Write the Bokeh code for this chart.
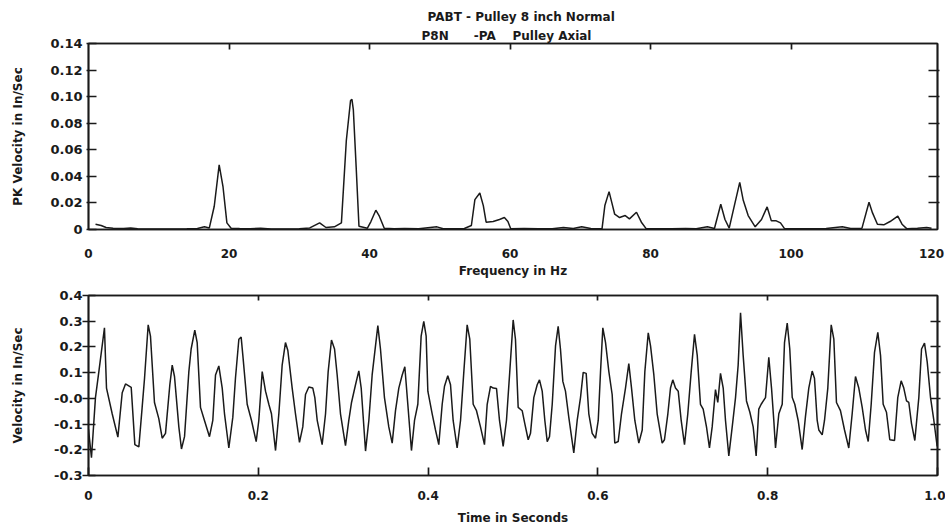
from bokeh.plotting import figure
from bokeh.models import LinearAxis, FixedTicker, Title, Range1d
from bokeh.layouts import column
from bokeh.embed import file_html
from bokeh.resources import INLINE

# ---------------- data ----------------
title_line1 = "PABT - Pulley 8 inch Normal"
title_line2 = "P8N\u00a0\u00a0\u00a0\u00a0\u00a0\u00a0-PA\u00a0\u00a0\u00a0\u00a0Pulley Axial"

freq_hz = [1.0, 1.8, 2.5, 3.5, 5.0, 6.0, 7.0, 8.5, 10.0, 12.0, 14.0, 15.5, 16.5, 17.2,
           17.9, 18.6, 19.15, 19.7, 20.3, 21.5, 23.0, 24.5, 26.0, 28.0, 30.0, 31.5,
           32.9, 33.8, 35.0, 36.0, 36.7, 37.3, 37.5, 37.7, 38.1, 38.5, 39.7, 40.2,
           40.9, 41.4, 42.1, 43.5, 45.0, 47.0, 49.6, 50.5, 52.0, 53.5, 54.5, 55.0,
           55.7, 56.2, 56.6, 57.6, 58.5, 59.2, 59.7, 60.1, 62.0, 64.0, 66.0, 67.6,
           69.0, 70.2, 71.5, 73.1, 73.5, 74.1, 74.5, 74.9, 75.6, 76.4, 77.0, 78.0,
           78.7, 79.4, 81.0, 83.0, 85.0, 86.5, 88.1, 89.1, 90.0, 90.6, 91.2, 92.0,
           92.7, 93.2, 93.9, 94.9, 95.8, 96.6, 97.2, 97.9, 98.5, 99.1, 101.0, 103.0,
           105.0, 107.3, 108.5, 110.1, 111.1, 111.6, 112.3, 113.2, 114.1, 115.2,
           115.8, 116.5, 118.0, 119.3, 120.0]
pk_velocity = [0.004, 0.003, 0.0015, 0.001, 0.0008, 0.0012, 0.0005, 0.0003, 0.0003, 0.0003,
               0.0005, 0.0008, 0.002, 0.0012, 0.0175, 0.0487, 0.032, 0.005, 0.001, 0.0008,
               0.0006, 0.001, 0.0004, 0.0003, 0.0005, 0.0012, 0.005, 0.0015, 0.002, 0.005,
               0.067, 0.097, 0.098, 0.090, 0.047, 0.0025, 0.001, 0.006, 0.0145, 0.010,
               0.001, 0.0006, 0.0008, 0.0005, 0.002, 0.0005, 0.0005, 0.0008, 0.003, 0.0225,
               0.0275, 0.018, 0.0055, 0.006, 0.0075, 0.009, 0.006, 0.0005, 0.0008, 0.0005,
               0.0006, 0.0015, 0.0008, 0.002, 0.0008, 0.0006, 0.018, 0.0285, 0.020, 0.0115,
               0.009, 0.0105, 0.008, 0.013, 0.0055, 0.0005, 0.0006, 0.0005, 0.0008, 0.0006,
               0.002, 0.0008, 0.019, 0.0075, 0.001, 0.0195, 0.0355, 0.022, 0.0105, 0.002,
               0.0075, 0.017, 0.0065, 0.0065, 0.005, 0.0005, 0.0006, 0.0005, 0.0008, 0.002,
               0.0008, 0.001, 0.0205, 0.0125, 0.004, 0.0035, 0.006, 0.010, 0.004, 0.0005,
               0.001, 0.0015, 0.001]

time_s = [0.0, 0.0035, 0.0082, 0.0122, 0.0188, 0.0212, 0.0279, 0.0346, 0.0397, 0.0436,
          0.0503, 0.0546, 0.0593, 0.0632, 0.0660, 0.0703, 0.0730, 0.0777, 0.0828, 0.0868,
          0.0907, 0.0958, 0.0986, 0.1013, 0.1064, 0.1095, 0.1131, 0.1182, 0.1209, 0.1252,
          0.1280, 0.1319, 0.1366, 0.1425, 0.1464, 0.1496, 0.1535, 0.1575, 0.1602, 0.1653,
          0.1700, 0.1731, 0.1771, 0.1798, 0.1818, 0.1869, 0.1920, 0.1975, 0.2006, 0.2046,
          0.2085, 0.2124, 0.2155, 0.2203, 0.2242, 0.2281, 0.2320, 0.2348, 0.2399, 0.2438,
          0.2485, 0.2524, 0.2556, 0.2595, 0.2642, 0.2666, 0.2694, 0.2752, 0.2792, 0.2823,
          0.2862, 0.2898, 0.2929, 0.2968, 0.3027, 0.3066, 0.3098, 0.3145, 0.3184, 0.3212,
          0.3263, 0.3302, 0.3341, 0.3408, 0.3439, 0.3486, 0.3537, 0.3577, 0.3616, 0.3655,
          0.3695, 0.3726, 0.3761, 0.3804, 0.3840, 0.3879, 0.3918, 0.3949, 0.3977, 0.3997,
          0.4048, 0.4087, 0.4126, 0.4166, 0.4193, 0.4232, 0.4264, 0.4295, 0.4342, 0.4382,
          0.4421, 0.4460, 0.4491, 0.4531, 0.4570, 0.4617, 0.4664, 0.4696, 0.4735, 0.4767,
          0.4806, 0.4841, 0.4884, 0.4923, 0.4962, 0.5002, 0.5029, 0.5061, 0.5108, 0.5139,
          0.5179, 0.5206, 0.5245, 0.5285, 0.5312, 0.5344, 0.5375, 0.5403, 0.5430, 0.5462,
          0.5501, 0.5532, 0.5559, 0.5587, 0.5618, 0.5657, 0.5716, 0.5756, 0.5795, 0.5827,
          0.5862, 0.5893, 0.5933, 0.5972, 0.6004, 0.6031, 0.6058, 0.6090, 0.6129, 0.6168,
          0.6199, 0.6239, 0.6278, 0.6325, 0.6364, 0.6396, 0.6435, 0.6482, 0.6522, 0.6553,
          0.6593, 0.6620, 0.6659, 0.6698, 0.6757, 0.6784, 0.6824, 0.6855, 0.6882, 0.6914,
          0.6946, 0.6981, 0.7020, 0.7059, 0.7099, 0.7138, 0.7170, 0.7208, 0.7240, 0.7279,
          0.7314, 0.7346, 0.7385, 0.7412, 0.7444, 0.7476, 0.7503, 0.7542, 0.7582, 0.7621,
          0.7652, 0.7680, 0.7711, 0.7750, 0.7790, 0.7829, 0.7864, 0.7895, 0.7923, 0.7974,
          0.8013, 0.8045, 0.8072, 0.8092, 0.8131, 0.8171, 0.8198, 0.8230, 0.8260, 0.8289,
          0.8319, 0.8359, 0.8406, 0.8445, 0.8484, 0.8524, 0.8551, 0.8583, 0.8602, 0.8642,
          0.8669, 0.8708, 0.8748, 0.8779, 0.8810, 0.8857, 0.8905, 0.8955, 0.8995, 0.9034,
          0.9073, 0.9113, 0.9152, 0.9184, 0.9219, 0.9258, 0.9297, 0.9329, 0.9360, 0.9399,
          0.9438, 0.9494, 0.9532, 0.9572, 0.9603, 0.9635, 0.9662, 0.9694, 0.9733, 0.9780,
          0.9812, 0.9847, 0.9879, 0.9918, 0.9957, 0.9996]
velocity = [-0.12, -0.231, 0.003, 0.104, 0.274, 0.040, -0.060, -0.151, 0.022, 0.056,
            0.043, -0.180, -0.189, -0.035, 0.078, 0.286, 0.242, -0.016, -0.079, -0.155,
            -0.136, 0.053, 0.129, 0.085, -0.111, -0.197, -0.149, 0.104, 0.192, 0.265,
            0.217, -0.035, -0.086, -0.149, -0.086, 0.091, 0.126, 0.040, -0.060, -0.193,
            -0.073, 0.078, 0.230, 0.238, 0.167, -0.023, -0.086, -0.168, -0.086, 0.104,
            0.028, -0.023, -0.060, -0.203, -0.060, 0.129, 0.217, 0.186, 0.040, -0.060,
            -0.171, -0.111, 0.015, 0.044, 0.040, 0.003, -0.086, -0.180, -0.060, 0.104,
            0.227, 0.192, 0.091, -0.060, -0.184, -0.086, -0.016, 0.053, 0.107, 0.040,
            -0.205, -0.086, 0.091, 0.283, 0.192, 0.003, -0.111, -0.174, -0.048, 0.040,
            0.091, 0.123, -0.023, -0.203, -0.086, -0.023, 0.242, 0.299, 0.242, 0.028,
            -0.060, -0.123, -0.180, -0.023, 0.047, 0.088, 0.053, -0.086, -0.193, -0.086,
            0.104, 0.286, 0.230, -0.023, -0.048, -0.111, -0.180, -0.023, 0.047, 0.040,
            0.038, -0.086, -0.187, -0.086, 0.104, 0.305, 0.230, -0.035, -0.048, -0.098,
            -0.161, -0.136, 0.003, 0.053, 0.072, 0.028, -0.086, -0.168, -0.149, -0.023,
            0.204, 0.280, 0.192, 0.066, 0.028, -0.073, -0.212, -0.086, 0.003, 0.101,
            0.097, -0.060, -0.136, -0.155, -0.086, 0.104, 0.274, 0.217, 0.104, 0.015,
            -0.174, -0.168, -0.060, 0.040, 0.135, 0.040, -0.086, -0.174, -0.123, 0.104,
            0.255, 0.204, 0.091, -0.060, -0.174, -0.161, -0.060, 0.040, 0.072, 0.040,
            0.028, -0.086, -0.180, -0.060, 0.104, 0.249, 0.167, -0.023, -0.042, -0.111,
            -0.193, -0.111, 0.034, -0.016, 0.097, 0.040, -0.086, -0.224, -0.111, 0.003,
            0.129, 0.333, 0.167, -0.010, -0.054, -0.111, -0.224, -0.042, -0.023, 0.003,
            0.160, 0.040, -0.086, -0.193, -0.060, -0.023, 0.217, 0.293, 0.192, 0.003,
            -0.023, -0.086, -0.199, -0.070, 0.040, 0.106, 0.078, -0.086, -0.123, -0.142,
            -0.086, 0.040, 0.286, 0.230, -0.016, -0.048, -0.123, -0.193, -0.060, 0.085,
            0.040, -0.035, -0.123, -0.168, -0.023, 0.179, 0.257, 0.167, -0.023, -0.054,
            -0.161, -0.164, 0.003, 0.068, 0.040, -0.010, -0.016, -0.098, -0.164, 0.003,
            0.192, 0.215, 0.141, 0.003, -0.086, -0.187]

freq_ticks = [0, 20, 40, 60, 80, 100, 120]
freq_tick_labels = ["0", "20", "40", "60", "80", "100", "120"]
pk_ticks = [0, 0.02, 0.04, 0.06, 0.08, 0.10, 0.12, 0.14]
pk_tick_labels = ["0", "0.02", "0.04", "0.06", "0.08", "0.10", "0.12", "0.14"]
time_ticks = [0, 0.2, 0.4, 0.6, 0.8, 1.0]
time_tick_labels = ["0", "0.2", "0.4", "0.6", "0.8", "1.0"]
vel_ticks = [-0.3, -0.2, -0.1, 0.0, 0.1, 0.2, 0.3, 0.4]
vel_tick_labels = ["-0.3", "-0.2", "-0.1", "-0.0", "0.1", "0.2", "0.3", "0.4"]

# ---------------- styling ----------------
FONT = "DejaVu Sans"
INK = "#1a1a1a"
LW = 1.7


def js_key(t):
    t = float(t)
    return str(int(t)) if t.is_integer() else repr(t)


def style_axis(ax, ticks, labels=None, tick_in=0, tick_out=0, standoff=4, size="12px"):
    ax.ticker = FixedTicker(ticks=list(ticks))
    ax.minor_tick_line_color = None
    ax.major_tick_in = tick_in
    ax.major_tick_out = tick_out
    ax.major_tick_line_color = INK
    ax.major_tick_line_width = LW
    ax.axis_line_color = INK
    ax.axis_line_width = LW
    if labels is not None:
        ov = {}
        for t, l in zip(ticks, labels):
            ov[float(t)] = l
            ov[js_key(t)] = l
        ax.major_label_overrides = ov
        ax.major_label_standoff = standoff
        ax.major_label_text_font = FONT
        ax.major_label_text_font_style = "bold"
        ax.major_label_text_font_size = size
        ax.major_label_text_color = INK
    else:
        # tick marks only: no label text is drawn
        ax.major_label_text_color = None
        ax.major_label_text_font_size = "1px"
        ax.major_label_standoff = 0


def style_axis_label(ax, text, standoff):
    ax.axis_label = text
    ax.axis_label_text_font = FONT
    ax.axis_label_text_font_style = "bold"
    ax.axis_label_text_font_size = "12px"
    ax.axis_label_text_color = INK
    ax.axis_label_standoff = standoff


# ---------------- top: spectrum ----------------
p1 = figure(width=945, height=280, output_backend="svg", toolbar_location=None,
            x_range=Range1d(0, 120.85), y_range=Range1d(0, 0.14),
            min_border_left=88, min_border_right=2, min_border_top=43, min_border_bottom=50)
p1.background_fill_color = "white"
p1.border_fill_color = "white"
p1.outline_line_color = INK
p1.outline_line_width = LW
p1.xgrid.grid_line_color = None
p1.ygrid.grid_line_color = None

style_axis(p1.xaxis[0], freq_ticks, freq_tick_labels, tick_in=0, tick_out=0, standoff=19)
style_axis_label(p1.xaxis[0], "Frequency in Hz", 3)
style_axis(p1.yaxis[0], pk_ticks, pk_tick_labels, tick_in=8, tick_out=2, standoff=4, size="13px")
style_axis_label(p1.yaxis[0], "PK Velocity in In/Sec", 22)

top_ax1 = LinearAxis()
style_axis(top_ax1, freq_ticks[1:-1], None, tick_in=6, tick_out=0)
p1.add_layout(top_ax1, "above")
right_ax1 = LinearAxis()
style_axis(right_ax1, pk_ticks[1:-1], None, tick_in=9, tick_out=2)
p1.add_layout(right_ax1, "right")

sub = Title(text=title_line2, align="left", offset=333, standoff=2,
            text_font=FONT, text_font_style="bold", text_font_size="12px", text_color=INK)
p1.add_layout(sub, "above")
p1.title.text = title_line1
p1.title.align = "left"
p1.title.offset = 339
p1.title.standoff = 3
p1.title.text_font = FONT
p1.title.text_font_style = "bold"
p1.title.text_font_size = "12px"
p1.title.text_color = INK

p1.line(freq_hz, pk_velocity, line_color=INK, line_width=1.5)

# ---------------- bottom: waveform ----------------
p2 = figure(width=945, height=247, output_backend="svg", toolbar_location=None,
            x_range=Range1d(0, 1.0), y_range=Range1d(-0.3, 0.4),
            min_border_left=88, min_border_right=8, min_border_top=15, min_border_bottom=47)
p2.background_fill_color = "white"
p2.border_fill_color = "white"
p2.outline_line_color = INK
p2.outline_line_width = LW
p2.xgrid.grid_line_color = None
p2.ygrid.grid_line_color = None

style_axis(p2.xaxis[0], time_ticks, time_tick_labels, tick_in=8, tick_out=0, standoff=15)
style_axis_label(p2.xaxis[0], "Time in Seconds", 8)
style_axis(p2.yaxis[0], vel_ticks, vel_tick_labels, tick_in=7, tick_out=6, standoff=0, size="13px")
style_axis_label(p2.yaxis[0], "Velocity in In/Sec", 26)

top_ax2 = LinearAxis()
style_axis(top_ax2, time_ticks[1:-1], None, tick_in=5, tick_out=0)
p2.add_layout(top_ax2, "above")
right_ax2 = LinearAxis()
style_axis(right_ax2, vel_ticks[1:-1], None, tick_in=7, tick_out=3)
p2.add_layout(right_ax2, "right")

p2.line(time_s, velocity, line_color=INK, line_width=1.5)

layout = column(p1, p2, spacing=0)
open("out.html", "w").write(file_html(layout, INLINE))
